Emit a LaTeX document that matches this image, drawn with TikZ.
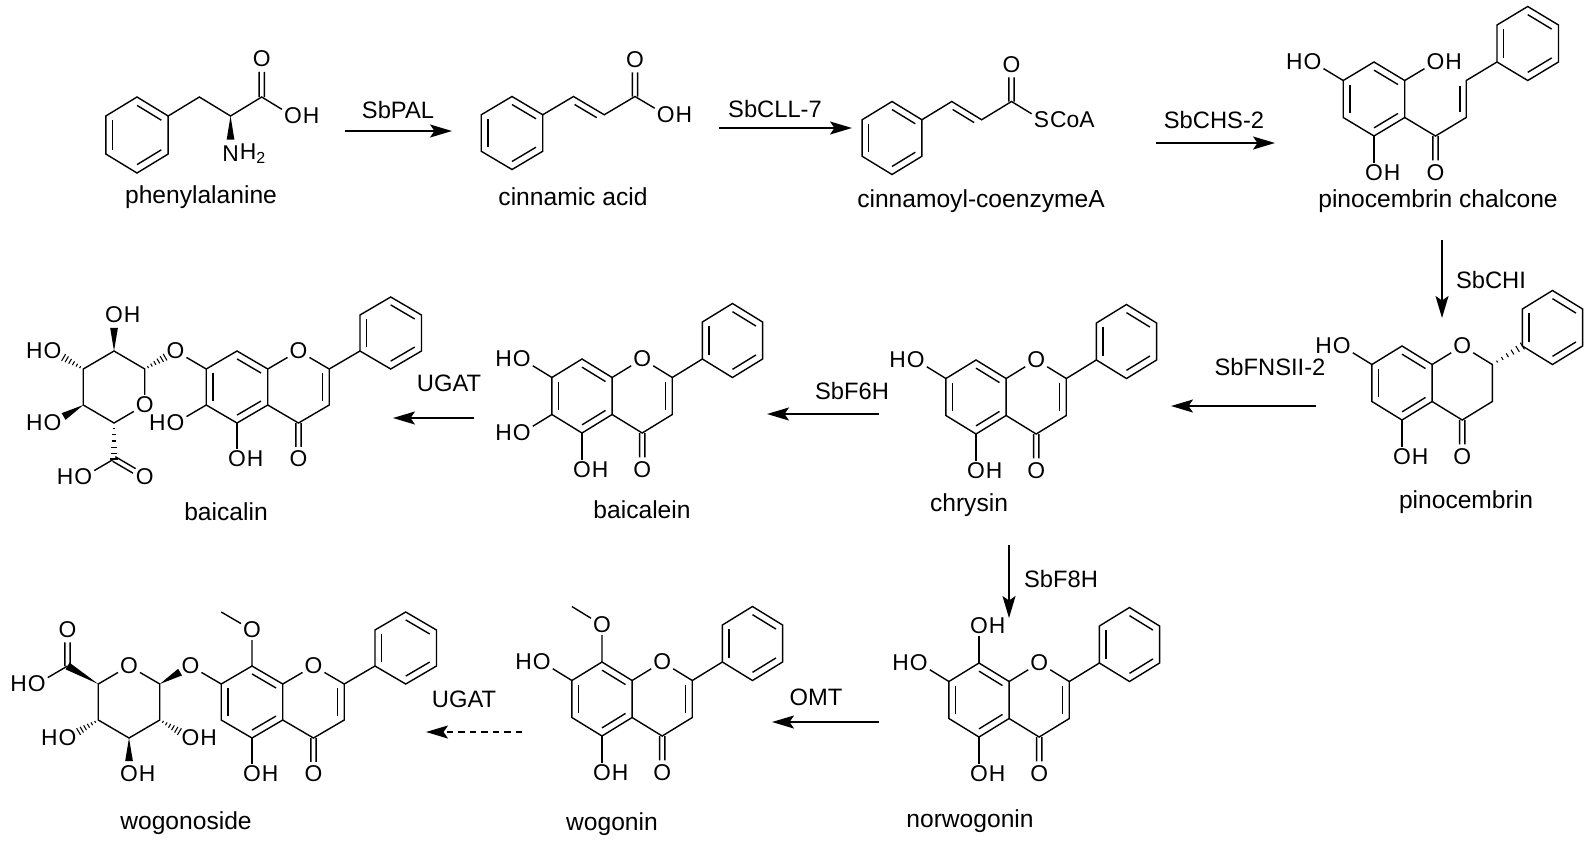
\documentclass[tikz,border=0pt]{standalone}
\usepackage{fontspec}
\setmainfont{Liberation Sans}
\usepackage{tikz}
\usetikzlibrary{calc,arrows.meta}
\newcommand{\atomfont}{\fontsize{13}{15}\selectfont}
\newcommand{\enzfont}{\fontsize{13.5}{16}\selectfont}
\newcommand{\cpdfont}{\fontsize{14}{16}\selectfont}
% inner line of a ring double bond
\newcommand{\dbin}[3]{\draw[bond] ($(#1)!0.22!(#3)$) -- ($(#2)!0.22!(#3)$);}
% hexagon #2 round #1
\newcommand{\ring}[2]{%
  \coordinate (#2c) at (#1);
  \foreach \ang [count=\kk] in {210,150,90,30,-30,-90}
    {\coordinate (#2\kk) at ($(#2c)+(\ang:1)$);}
  \draw[bond] (#21)--(#22)--(#23)--(#24)--(#25)--(#26)--cycle;
  \dbin{#21}{#22}{#2c}\dbin{#23}{#24}{#2c}\dbin{#25}{#26}{#2c}}
% C=O
\newcommand{\dbo}[2]{%
  \coordinate (dbe) at ($(#1)!0.66!(#2)$);
  \draw[bond] ($(#1)!1.5pt!90:(dbe)$) -- ($(dbe)!1.5pt!-90:(#1)$);
  \draw[bond] ($(#1)!1.5pt!-90:(dbe)$) -- ($(dbe)!1.5pt!90:(#1)$);}
\newcommand{\dbR}[2]{\draw[bond] ($(#1)!0.14!(#2)!3.6pt!-90:(#2)$) -- ($(#2)!0.14!(#1)!3.6pt!90:(#1)$);}
\newcommand{\dbL}[2]{\draw[bond] ($(#1)!0.14!(#2)!3.6pt!90:(#2)$) -- ($(#2)!0.14!(#1)!3.6pt!-90:(#1)$);}
% stereo bonds
\newcommand{\wdg}[3]{%
  \coordinate (wtip) at ($(#1)!#3!(#2)$);
  \fill (#1) -- ($(wtip)!2.2pt!90:(#1)$) -- ($(wtip)!2.2pt!-90:(#1)$) -- cycle;}
\newcommand{\hsh}[3]{%
  \coordinate (htip) at ($(#1)!#3!(#2)$);
  \foreach \hs in {0.16,0.33,0.5,0.67,0.84,1}{
    \pgfmathsetmacro{\hw}{0.3+1.9*\hs}
    \draw[line width=0.6pt] ($(#1)!\hs!(htip)!\hw pt!90:(#1)$) -- ($(#1)!\hs!(htip)!\hw pt!-90:(#1)$);}}
% flavanone / flavone skeleton
\newcommand{\flavcore}{%
  \ring{0,0}{a}
  \coordinate (cb) at (1.732,0);
  \coordinate (c2) at (2.598,0.5); \coordinate (c3) at (2.598,-0.5); \coordinate (c4) at (1.732,-1);
  \node[atom] (o1) at (1.732,1) {O};
  \node[atom] (o4) at (1.732,-2) {O};
  \node[atom,label={[hl]east:H}] (o5) at (0,-2) {O};
  \draw[bond] (a4) -- (o1) -- (c2) -- (c3) -- (c4) -- (a5);
  \draw[bond] (a6) -- (o5);
  \dbo{c4}{o4}
  \ring{4.33,1.5}{p}}
\newcommand{\flavone}{\flavcore \draw[bond] (c2) -- (p1); \dbin{c2}{c3}{cb}}
\newcommand{\hoseven}{\node[atom,label={[hl]west:H}] (o7) at (-1.732,1) {O}; \draw[bond] (a2) -- (o7);}

\begin{document}
\begin{tikzpicture}[x=0.2mm, y=-0.2mm,
  bond/.style={line width=0.8pt},
  atom/.style={inner sep=1pt, font=\atomfont},
  hl/.style={inner sep=0pt, font=\atomfont},
  label distance=-0.8pt,
  enz/.style={font=\enzfont},
  cpd/.style={font=\cpdfont},
  rxn/.style={line width=1pt, -{Stealth[length=4.4mm,width=2.6mm,inset=0.9mm]}},
  rxnd/.style={rxn, dash pattern=on 1.3mm off 1mm}]
\useasboundingbox[fill=white] (0,0) rectangle (1594,845);

% phenylalanine
\begin{scope}[shift={(137,135)}, x=7.2mm, y=7.6mm]
  \ring{0,0}{a}
  \coordinate (ch) at (1.732,1); \coordinate (ca) at (2.598,0.5); \coordinate (cx) at (3.464,1);
  \node[atom] (oe) at (3.464,2) {O};
  \node[atom,label={[hl]east:H}] (od) at (4.33,0.5) {O};
  \node[atom,label={[hl]east:H\textsubscript{2}}] (nn) at (2.598,-0.5) {N};
  \draw[bond] (a4) -- (ch) -- (ca) -- (cx) -- (od);
  \dbo{cx}{oe}
  \wdg{ca}{nn}{0.62}
\end{scope}

% cinnamic acid
\begin{scope}[shift={(512,133)}, x=7.1mm, y=7.3mm]
  \ring{0,0}{a}
  \coordinate (v1) at (1.732,1); \coordinate (v2) at (2.598,0.5); \coordinate (cx) at (3.464,1);
  \node[atom] (oe) at (3.464,2) {O};
  \node[atom,label={[hl]east:H}] (od) at (4.33,0.5) {O};
  \draw[bond] (a4) -- (v1) -- (v2) -- (cx) -- (od);
  \dbR{v1}{v2} \dbo{cx}{oe}
\end{scope}

% cinnamoyl-CoA
\begin{scope}[shift={(892,138)}, x=6.9mm, y=7.3mm]
  \ring{0,0}{a}
  \coordinate (v1) at (1.732,1); \coordinate (v2) at (2.598,0.5); \coordinate (cx) at (3.464,1);
  \node[atom] (oe) at (3.464,2) {O};
  \node[atom,label={[hl]east:CoA}] (ss) at (4.33,0.5) {S};
  \draw[bond] (a4) -- (v1) -- (v2) -- (cx) -- (ss);
  \dbR{v1}{v2} \dbo{cx}{oe}
\end{scope}

% pinocembrin chalcone
\begin{scope}[shift={(1374,99)}, x=7.1mm, y=7.4mm]
  \ring{0,0}{a}
  \node[atom,label={[hl]west:H}] (o7) at (-1.732,1) {O};
  \node[atom,label={[hl]east:H}] (o8) at (1.732,1) {O};
  \node[atom,label={[hl]east:H}] (o5) at (0,-2) {O};
  \coordinate (cx) at (1.732,-1); \node[atom] (oe) at (1.732,-2) {O};
  \coordinate (v1) at (2.598,-0.5); \coordinate (v2) at (2.598,0.5);
  \ring{4.33,1.5}{p}
  \draw[bond] (a2) -- (o7); \draw[bond] (a4) -- (o8); \draw[bond] (a6) -- (o5);
  \draw[bond] (a5) -- (cx) -- (v1) -- (v2) -- (p1);
  \dbo{cx}{oe} \dbL{v1}{v2}
\end{scope}

% pinocembrin
\begin{scope}[shift={(1402,383)}, x=6.95mm, y=7.4mm]
  \flavcore \hoseven
  \hsh{c2}{p1}{1}
\end{scope}

% chrysin
\begin{scope}[shift={(976,397)}, x=6.95mm, y=7.4mm]
  \flavone \hoseven
\end{scope}

% baicalein
\begin{scope}[shift={(582,396)}, x=6.95mm, y=7.4mm]
  \flavone \hoseven
  \node[atom,label={[hl]west:H}] (o6) at (-1.732,-1) {O};
  \draw[bond] (a1) -- (o6);
\end{scope}

% baicalin
\begin{scope}[shift={(237,387)}, x=7.1mm, y=7.2mm]
  \flavone
  \node[atom,label={[hl]west:H}] (o6) at (-1.732,-1) {O};
  \draw[bond] (a1) -- (o6);
  \node[atom] (og) at (-1.732,1) {O};
  \coordinate (s1) at (-2.598,0.5); \coordinate (s2) at (-3.464,1); \coordinate (s3) at (-4.33,0.5);
  \coordinate (s4) at (-4.33,-0.5); \coordinate (s5) at (-3.464,-1); \coordinate (cx) at (-3.464,-2);
  \node[atom] (os) at (-2.598,-0.5) {O};
  \node[atom,label={[hl]east:H}] (oa) at (-3.464,2) {O};
  \node[atom,label={[hl]west:H}] (ob) at (-5.196,1) {O};
  \node[atom,label={[hl]west:H}] (oc) at (-5.196,-1) {O};
  \node[atom,label={[hl]west:H}] (od) at (-4.33,-2.5) {O};
  \node[atom] (oe) at (-2.598,-2.5) {O};
  \draw[bond] (a2) -- (og);
  \draw[bond] (os) -- (s1) -- (s2) -- (s3) -- (s4) -- (s5) -- (os);
  \draw[bond] (cx) -- (od);
  \hsh{s1}{og}{0.66} \wdg{s2}{oa}{0.64} \hsh{s3}{ob}{0.64} \wdg{s4}{oc}{0.64} \hsh{s5}{cx}{1}
  \dbo{cx}{oe}
\end{scope}

% norwogonin
\begin{scope}[shift={(979,700)}, x=6.95mm, y=7.4mm]
  \flavone \hoseven
  \node[atom,label={[hl]east:H}] (o8) at (0,2) {O};
  \draw[bond] (a3) -- (o8);
\end{scope}

% wogonin
\begin{scope}[shift={(602,699)}, x=6.95mm, y=7.4mm]
  \flavone \hoseven
  \node[atom] (o8) at (0,2) {O}; \coordinate (me) at (-0.866,2.5);
  \draw[bond] (a3) -- (o8) -- (me);
\end{scope}

% wogonoside
\begin{scope}[shift={(252,702)}, x=7.1mm, y=7.2mm]
  \flavone
  \node[atom] (o8) at (0,2) {O}; \coordinate (me) at (-0.866,2.5);
  \draw[bond] (a3) -- (o8) -- (me);
  \node[atom] (og) at (-1.732,1) {O};
  \coordinate (s1) at (-2.598,0.5); \coordinate (s3) at (-4.33,0.5); \coordinate (s4) at (-4.33,-0.5);
  \coordinate (s5) at (-3.464,-1); \coordinate (s6) at (-2.598,-0.5); \coordinate (cx) at (-5.196,1);
  \node[atom] (os) at (-3.464,1) {O};
  \node[atom] (oe) at (-5.196,2) {O};
  \node[atom,label={[hl]west:H}] (od) at (-6.062,0.5) {O};
  \node[atom,label={[hl]west:H}] (oc) at (-5.196,-1) {O};
  \node[atom,label={[hl]east:H}] (ob) at (-3.464,-2) {O};
  \node[atom,label={[hl]east:H}] (oa) at (-1.732,-1) {O};
  \draw[bond] (a2) -- (og);
  \draw[bond] (s1) -- (os) -- (s3) -- (s4) -- (s5) -- (s6) -- (s1);
  \draw[bond] (cx) -- (od);
  \wdg{s1}{og}{0.66} \wdg{s3}{cx}{1} \hsh{s4}{oc}{0.64} \wdg{s5}{ob}{0.64} \hsh{s6}{oa}{0.64}
  \dbo{cx}{oe}
\end{scope}

% compound names
\node[cpd] (nPhe) at (201,197) {phenylalanine};
\node[cpd] (nCin) at (573,197) {cinnamic acid};
\node[cpd] (nCoA) at (981,201) {cinnamoyl-coenzymeA};
\node[cpd] (nChal) at (1438,201) {pinocembrin chalcone};
\node[cpd] (nPino) at (1466,502) {pinocembrin};
\node[cpd] (nChry) at (969,505) {chrysin};
\node[cpd] (nBcle) at (642,510) {baicalein};
\node[cpd] (nBcln) at (226,512) {baicalin};
\node[cpd] (nNorw) at (970,821) {norwogonin};
\node[cpd] (nWog) at (612,824) {wogonin};
\node[cpd] (nWgs) at (186,823) {wogonoside};

% enzymes
\node[enz] (ePAL) at (398,110) {SbPAL};
\node[enz] (eCLL) at (775,109) {SbCLL-7};
\node[enz] (eCHS) at (1214,120) {SbCHS-2};
\node[enz] (eCHI) at (1491,280) {SbCHI};
\node[enz] (eFNS) at (1270,367) {SbFNSII-2};
\node[enz] (eF6H) at (852,391) {SbF6H};
\node[enz] (eUG1) at (449,383) {UGAT};
\node[enz] (eF8H) at (1061,579) {SbF8H};
\node[enz] (eOMT) at (816,697) {OMT};
\node[enz] (eUG2) at (464,699) {UGAT};

% reaction arrows
\coordinate (pal1) at (345,131);  \coordinate (pal2) at (452,131);
\coordinate (cll1) at (719,128);  \coordinate (cll2) at (852,128);
\coordinate (chs1) at (1156,143); \coordinate (chs2) at (1275,143);
\coordinate (chi1) at (1442,240); \coordinate (chi2) at (1442,318);
\coordinate (fns1) at (1316,406); \coordinate (fns2) at (1171,406);
\coordinate (f6h1) at (879,414);  \coordinate (f6h2) at (767,414);
\coordinate (ug11) at (474,418);  \coordinate (ug12) at (393,418);
\coordinate (f8h1) at (1009,545); \coordinate (f8h2) at (1009,618);
\coordinate (omt1) at (879,722);  \coordinate (omt2) at (772,722);
\coordinate (ug21) at (522,732);  \coordinate (ug22) at (426,732);
\draw[rxn] (pal1) -- (pal2);
\draw[rxn] (cll1) -- (cll2);
\draw[rxn] (chs1) -- (chs2);
\draw[rxn] (chi1) -- (chi2);
\draw[rxn] (fns1) -- (fns2);
\draw[rxn] (f6h1) -- (f6h2);
\draw[rxn] (ug11) -- (ug12);
\draw[rxn] (f8h1) -- (f8h2);
\draw[rxn] (omt1) -- (omt2);
\draw[rxnd] (ug21) -- (ug22);
\end{tikzpicture}
\end{document}
